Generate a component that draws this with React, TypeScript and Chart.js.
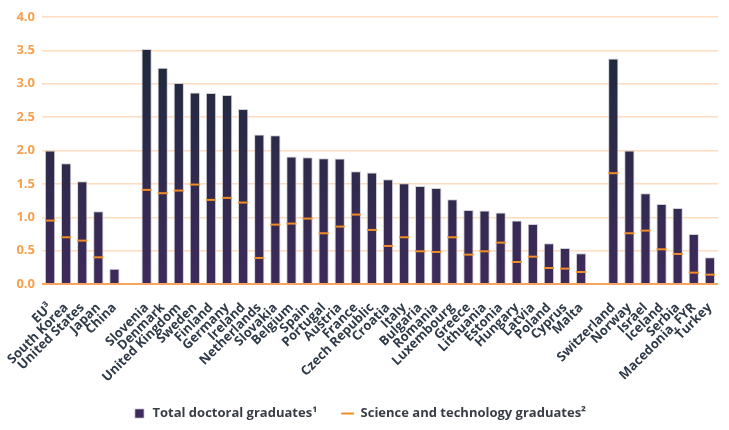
import React, { useEffect, useRef } from "react";
import { Chart, registerables } from "chart.js";

Chart.register(...registerables);

const categories: string[] = [
  "EU³", "South Korea", "United States", "Japan", "China", " ",
  "Slovenia", "Denmark", "United Kingdom", "Sweden", "Finland", "Germany", "Ireland",
  "Netherlands", "Slovakia", "Belgium", "Spain", "Portugal", "Austria", "France",
  "Czech Republic", "Croatia", "Italy", "Bulgaria", "Romania", "Luxembourg", "Greece",
  "Lithuania", "Estonia", "Hungary", "Latvia", "Poland", "Cyprus", "Malta", "  ",
  "Switzerland", "Norway", "Israel", "Iceland", "Serbia", "Macedonia, FYR", "Turkey",
];

const totalGraduates: (number | null)[] = [
  2.0, 1.81, 1.54, 1.09, 0.23, null,
  3.52, 3.24, 3.01, 2.87, 2.86, 2.83, 2.62,
  2.24, 2.23, 1.91, 1.9, 1.885, 1.88, 1.69,
  1.67, 1.57, 1.51, 1.47, 1.44, 1.27, 1.11,
  1.1, 1.07, 0.95, 0.9, 0.61, 0.54, 0.46, null,
  3.38, 2.0, 1.36, 1.2, 1.14, 0.75, 0.4,
];

const scienceTechGraduates: (number | null)[] = [
  0.95, 0.7, 0.65, 0.4, null, null,
  1.41, 1.36, 1.4, 1.49, 1.26, 1.29, 1.22,
  0.39, 0.89, 0.905, 0.98, 0.76, 0.86, 1.04,
  0.81, 0.57, 0.7, 0.49, 0.48, 0.7, 0.44,
  0.49, 0.62, 0.33, 0.41, 0.24, 0.23, 0.18, null,
  1.66, 0.76, 0.8, 0.52, 0.45, 0.17, 0.14,
];

const seriesLabels = ["Total doctoral graduates¹", "Science and technology graduates²"];

export default function App() {
  const canvasRef = useRef<HTMLCanvasElement | null>(null);

  useEffect(() => {
    document.body.style.margin = "0";
    const canvas = canvasRef.current;
    if (!canvas) return;

    const barFill = (ctx: any) => {
      const chart = ctx.chart;
      const area = chart.chartArea;
      if (!area) return "#2e2a4a";
      const g = chart.ctx.createLinearGradient(0, area.bottom, 0, area.top);
      g.addColorStop(0, "#3e2a5c");
      g.addColorStop(1, "#1b2a37");
      return g;
    };

    const chart = new Chart(canvas, {
      data: {
        labels: categories,
        datasets: [
          {
            type: "line" as const,
            label: seriesLabels[1],
            data: scienceTechGraduates,
            showLine: false,
            borderColor: "#f28c28",
            backgroundColor: "#f28c28",
            borderWidth: 3,
            pointStyle: "line",
            pointRadius: 5,
            pointBorderWidth: 2,
            pointBorderColor: "#f28c28",
            pointHoverRadius: 5,
            order: 0,
          },
          {
            type: "bar" as const,
            label: seriesLabels[0],
            data: totalGraduates,
            backgroundColor: barFill,
            borderColor: "rgba(190,190,200,0.7)",
            borderWidth: 1,
            pointStyle: "rect",
            barPercentage: 1,
            categoryPercentage: 0.64,
            order: 1,
          },
        ],
      },
      options: {
        animation: false,
        responsive: false,
        devicePixelRatio: 1,
        layout: { padding: { top: 17, right: 10, left: 0, bottom: 0 } },
        plugins: {
          tooltip: { enabled: false },
          legend: {
            position: "bottom",
            reverse: true,
            labels: {
              usePointStyle: true,
              boxHeight: 9,
              padding: 24,
              color: "#383d45",
              font: { family: "'Open Sans', sans-serif", size: 13, weight: "bold" },
            },
          },
        },
        scales: {
          x: {
            grid: { display: false },
            border: { display: false },
            ticks: {
              autoSkip: false,
              minRotation: 45,
              maxRotation: 45,
              padding: 8,
              color: "#2e3a47",
              font: { family: "'Open Sans', sans-serif", size: 13, weight: "bold" },
            },
            afterFit: (scale: any) => {
              const lh = scale.chart.legend ? scale.chart.legend.height : 40;
              scale.height = 430 - 284 - lh;
            },
          },
          y: {
            min: 0,
            max: 4,
            border: { display: false },
            grid: {
              drawTicks: false,
              color: (ctx: any) => (ctx.tick && ctx.tick.value === 0 ? "#f6a45e" : "#fddcbf"),
              lineWidth: (ctx: any) => (ctx.tick && ctx.tick.value === 0 ? 2 : 1.5),
            },
            ticks: {
              stepSize: 0.5,
              padding: 7,
              color: "#f6a04d",
              font: { family: "'Open Sans', sans-serif", size: 13, weight: "bold" },
              callback: (v: any) => Number(v).toFixed(1),
            },
            afterFit: (scale: any) => {
              scale.width = 42;
            },
          },
        },
      },
    } as any);

    return () => chart.destroy();
  }, []);

  return (
    <div style={{ width: 729, height: 430 }}>
      <canvas ref={canvasRef} width={729} height={430} />
    </div>
  );
}
